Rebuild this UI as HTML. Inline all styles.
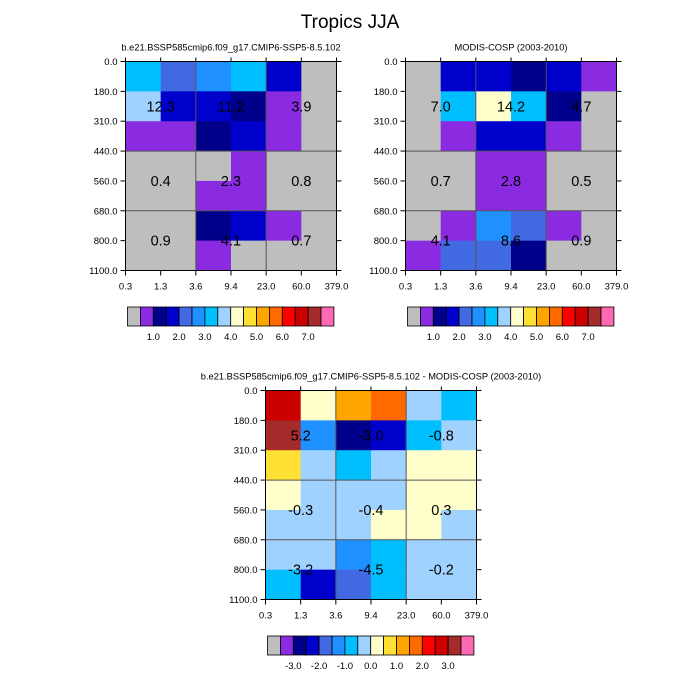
<!DOCTYPE html>
<html><head><meta charset="utf-8"><style>
html,body{margin:0;padding:0;background:#fff;}
svg{display:block;font-family:"Liberation Sans",sans-serif;}
</style></head><body>
<svg id="chart" width="700" height="700" viewBox="0 0 700 700">
<text x="350" y="28" font-size="19" text-anchor="middle">Tropics JJA</text>
</svg>
<script>
// ---- data ----
const xTicks = ["0.3","1.3","3.6","9.4","23.0","60.0","379.0"];
const yTicks = ["0.0","180.0","310.0","440.0","560.0","680.0","800.0","1100.0"];
const palette = ["#bebebe","#8a2be2","#00008b","#0000cd","#4169e1","#1e90ff","#00bfff","#a0d2ff","#ffffcc","#ffe135","#ffa500","#ff6a00","#ff0000","#cd0000","#a52a2a","#ff69b4"];
const levelsAbs = [0.5,1.0,1.5,2.0,2.5,3.0,3.5,4.0,4.5,5.0,5.5,6.0,6.5,7.0,7.5];
const levelsDiff = [-3.5,-3.0,-2.5,-2.0,-1.5,-1.0,-0.5,0.0,0.5,1.0,1.5,2.0,2.5,3.0,3.5];
const labelsAbs = ["1.0","2.0","3.0","4.0","5.0","6.0","7.0"];
const labelsDiff = ["-3.0","-2.0","-1.0","0.0","1.0","2.0","3.0"];
const modelVals = [
 [3.2,2.2,2.7,3.2,1.7,0.2],
 [3.7,1.7,1.7,1.2,0.7,0.2],
 [0.7,0.7,1.2,1.7,0.7,0.2],
 [0.2,0.2,0.2,0.7,0.2,0.2],
 [0.2,0.2,0.7,0.7,0.2,0.2],
 [0.2,0.2,1.2,1.7,0.7,0.2],
 [0.2,0.2,0.7,0.2,0.2,0.2]];
const obsVals = [
 [0.2,1.7,1.7,1.2,1.7,0.7],
 [0.2,3.2,4.2,3.2,1.2,0.2],
 [0.2,0.7,1.7,1.7,0.7,0.2],
 [0.2,0.2,0.7,0.7,0.2,0.2],
 [0.2,0.2,0.7,0.7,0.2,0.2],
 [0.2,0.7,2.7,2.2,0.7,0.2],
 [0.7,2.2,2.2,1.2,0.2,0.2]];
const diffVals = [
 [2.8,0.3,1.3,1.8,-0.2,-0.7],
 [3.3,-1.2,-2.7,-2.2,-0.7,-0.2],
 [0.8,-0.2,-0.7,-0.2,0.3,0.3],
 [0.3,-0.2,-0.2,-0.2,0.3,0.3],
 [-0.2,-0.2,-0.2,0.3,0.3,-0.2],
 [-0.2,-0.2,-1.2,-0.7,-0.2,-0.2],
 [-0.7,-2.2,-1.7,-0.7,-0.2,-0.2]];
const modelSums = ["12.3","11.2","3.9","0.4","2.3","0.8","0.9","4.1","0.7"];
const obsSums = ["7.0","14.2","4.7","0.7","2.8","0.5","4.1","8.6","0.9"];
const diffSums = ["5.2","-3.0","-0.8","-0.3","-0.4","0.3","-3.2","-4.5","-0.2"];

const NS="http://www.w3.org/2000/svg";
const svg=document.getElementById('chart');
function mk(tag,attrs,parent){const e=document.createElementNS(NS,tag);for(const k in attrs)e.setAttribute(k,attrs[k]);(parent||svg).appendChild(e);return e;}
function bin(v,levels){let i=0;for(const l of levels){if(v>=l)i++;}return i;}

function panel(name,x0,y0,vals,levels,sums,title){
  const W=211,H=209,nc=6,nr=7;
  const g=mk('g',{});
  
  
  const xs=c=>x0+c*W/nc, ys=r=>y0+r*H/nr;
  const t=mk('text',{x:x0+W/2,y:y0-11,'font-size':9.3,'text-anchor':'middle'},g);
  t.textContent=title;
  
  
  vals.forEach((row,r)=>row.forEach((v,c)=>{
    const rc=mk('rect',{x:xs(c),y:ys(r),width:W/nc+0.3,height:H/nr+0.3,fill:palette[bin(v,levels)]},g);
    
    
  }));
  [2,4].forEach(c=>mk('line',{x1:xs(c),x2:xs(c),y1:y0,y2:y0+H,stroke:'#555','stroke-width':1},g));
  [3,5].forEach(r=>mk('line',{x1:x0,x2:x0+W,y1:ys(r),y2:ys(r),stroke:'#555','stroke-width':1},g));
  mk('rect',{x:x0,y:y0,width:W,height:H,fill:'none',stroke:'#000','stroke-width':1},g);
  xTicks.forEach((lab,i)=>{
    const x=xs(i);
    mk('line',{x1:x,x2:x,y1:y0+H,y2:y0+H+5,stroke:'#000'},g);
    mk('line',{x1:x,x2:x,y1:y0,y2:y0-4,stroke:'#000'},g);
    const tx=mk('text',{x:x,y:y0+H+19,'font-size':9.5,'text-anchor':'middle'},g);
    tx.textContent=lab;
    
    
  });
  yTicks.forEach((lab,i)=>{
    const y=ys(i);
    mk('line',{x1:x0-5,x2:x0,y1:y,y2:y,stroke:'#000'},g);
    mk('line',{x1:x0+W,x2:x0+W+5,y1:y,y2:y,stroke:'#000'},g);
    const ty=mk('text',{x:x0-8,y:y+3.5,'font-size':9.5,'text-anchor':'end'},g);
    ty.textContent=lab;
    
    
  });
  sums.forEach((s,k)=>{
    const gc=k%3, gr=Math.floor(k/3);
    const cx=xs(gc*2+1);
    const cy=gr===0?ys(1.5):gr===1?ys(4):ys(6);
    const st=mk('text',{x:cx,y:cy+5,'font-size':14.5,'text-anchor':'middle'},g);
    st.textContent=s;
    
    
  });
}
function colorbar(name,x0,y0,labels){
  const bw=12.9,bh=19;
  const g=mk('g',{});
  
  
  palette.forEach((c,i)=>{
    const r=mk('rect',{x:x0+i*bw,y:y0,width:bw,height:bh,fill:c,stroke:'#000','stroke-width':0.8},g);
    
    
  });
  labels.forEach((l,i)=>{
    const t=mk('text',{x:x0+(2+2*i)*bw,y:y0+bh+14,'font-size':9.5,'text-anchor':'middle'},g);
    t.textContent=l;
    
    
  });
}
panel('model-panel',125.5,61.5,modelVals,levelsAbs,modelSums,'b.e21.BSSP585cmip6.f09_g17.CMIP6-SSP5-8.5.102');
panel('obs-panel',405.5,61.5,obsVals,levelsAbs,obsSums,'MODIS-COSP (2003-2010)');
panel('diff-panel',265.5,390.5,diffVals,levelsDiff,diffSums,'b.e21.BSSP585cmip6.f09_g17.CMIP6-SSP5-8.5.102 - MODIS-COSP (2003-2010)');
colorbar('model-colorbar',127.5,307,labelsAbs);
colorbar('obs-colorbar',407.5,307,labelsAbs);
colorbar('diff-colorbar',267.5,636,labelsDiff);
</script>
</body></html>
